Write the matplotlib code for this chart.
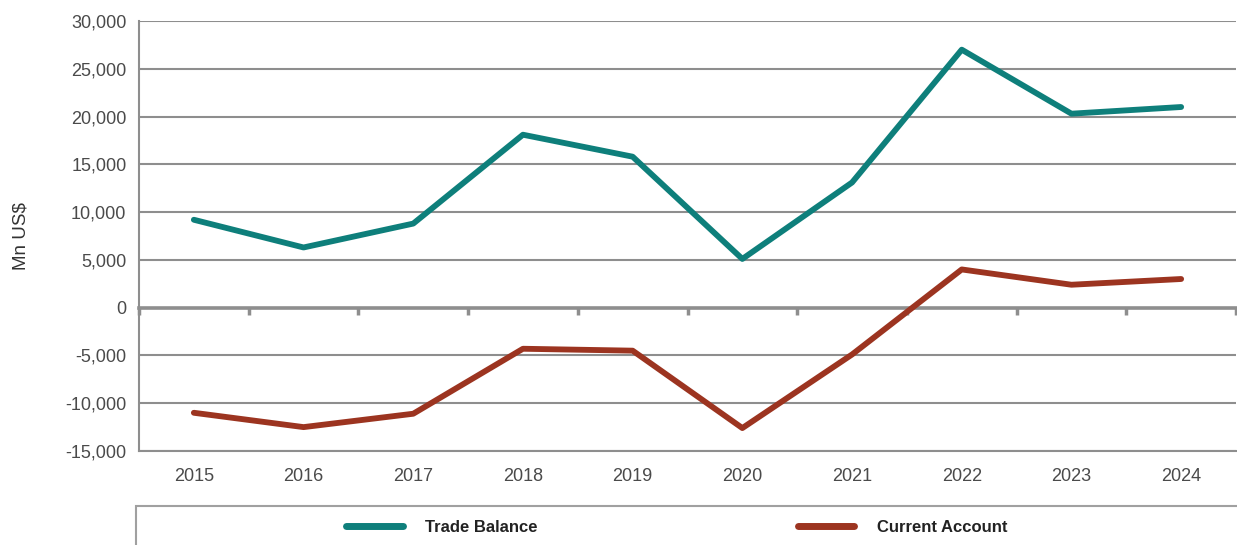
import matplotlib
matplotlib.use("Agg")
from matplotlib import pyplot as plt
from matplotlib.patches import Rectangle
from matplotlib.ticker import FuncFormatter, NullFormatter
import numpy as np

years = ["2015", "2016", "2017", "2018", "2019", "2020", "2021", "2022", "2023", "2024"]
trade_balance = [9200, 6300, 8800, 18100, 15800, 5100, 13100, 27000, 20300, 21000]
current_account = [-11000, -12500, -11100, -4300, -4500, -12600, -4900, 4000, 2400, 3000]

teal = "#0e7f7b"
rust = "#9c3420"
grid_grey = "#8e8e8e"
text_grey = "#4a4a4a"

plt.rcParams["font.family"] = ["Liberation Sans", "DejaVu Sans"]

fig = plt.figure(figsize=(12.37, 5.45), dpi=100)
ax = fig.add_axes([139 / 1237, 1 - 451 / 545, 1097 / 1237, 430 / 545])

x = np.arange(len(years))
ax.plot(x, trade_balance, color=teal, lw=4.2, solid_capstyle="round",
        solid_joinstyle="round", label="Trade Balance", zorder=3)
ax.plot(x, current_account, color=rust, lw=4.2, solid_capstyle="round",
        solid_joinstyle="round", label="Current Account", zorder=3)

ax.set_xlim(-0.5, len(years) - 0.5)
ax.set_ylim(-15000, 30000)
ax.set_yticks(np.arange(-15000, 30001, 5000))
ax.yaxis.set_major_formatter(FuncFormatter(lambda v, p: f"{v:,.0f}"))
ax.set_xticks(x)
ax.set_xticklabels(years)

ax.grid(axis="y", color=grid_grey, lw=1.5)
ax.set_axisbelow(True)
ax.tick_params(axis="both", length=0, labelsize=13, labelcolor=text_grey)
ax.tick_params(axis="x", pad=12)
ax.tick_params(axis="y", pad=9)

for side in ["top", "right"]:
    ax.spines[side].set_visible(False)
for side in ["left", "bottom"]:
    ax.spines[side].set_color(grid_grey)
    ax.spines[side].set_linewidth(1.5)

# zero line with small category ticks
zero = ax.secondary_xaxis(1 / 3)
zero.set_xticks(np.arange(-0.5, len(years), 1.0))
zero.xaxis.set_major_formatter(NullFormatter())
zero.xaxis.set_ticks_position("bottom")
zero.tick_params(direction="out", length=5, width=2.5, color=grid_grey)
for side in ["top", "bottom"]:
    zero.spines[side].set_color(grid_grey)
    zero.spines[side].set_linewidth(2.6)

ax.set_ylabel("Mn US$", fontsize=13.5, color="#333333")
ax.yaxis.set_label_coords(-0.1, 0.5)

# legend box running off the bottom edge
fig.patches.append(Rectangle((136 / 1237, -0.2), 1.2, 0.2 + 1 - 506 / 545,
                             transform=fig.transFigure, fill=False,
                             edgecolor="#a0a0a0", lw=1.5))
leg = fig.legend(loc="center left", bbox_to_anchor=(331 / 1237, 1 - 527 / 545), ncol=2,
                 frameon=False, handlelength=3.4, handletextpad=1.35, columnspacing=15.6,
                 prop={"weight": "bold", "size": 12})
for t in leg.get_texts():
    t.set_color("#222222")
for h in leg.get_lines():
    h.set_linewidth(5)
    h.set_solid_capstyle("round")

fig.savefig("out.png", dpi=100)
